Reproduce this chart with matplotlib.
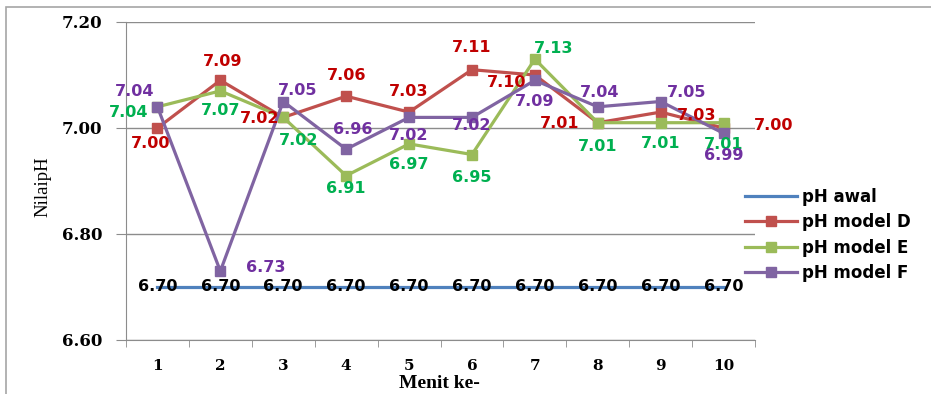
import matplotlib.pyplot as plt
from matplotlib.patches import Rectangle

# Data pH per menit
menit = ["1", "2", "3", "4", "5", "6", "7", "8", "9", "10"]
ph_awal = [6.70, 6.70, 6.70, 6.70, 6.70, 6.70, 6.70, 6.70, 6.70, 6.70]
ph_d = [7.00, 7.09, 7.02, 7.06, 7.03, 7.11, 7.10, 7.01, 7.03, 7.00]
ph_e = [7.04, 7.07, 7.02, 6.91, 6.97, 6.95, 7.13, 7.01, 7.01, 7.01]
ph_f = [7.04, 6.73, 7.05, 6.96, 7.02, 7.02, 7.09, 7.04, 7.05, 6.99]

# posisi label data (piksel, relatif ke titik)
off_awal = [(0, 0)] * 10
off_d = [(-7, -15), (2, 19), (-24, -1), (0, 21), (0, 21), (0, 22), (-28, -7), (-38, -1), (36, -3), (50, 2)]
off_e = [(-29, -6), (0, -20), (15, -23), (0, -13), (0, -21), (0, -23), (19, 11), (0, -24), (0, -21), (0, -22)]
off_f = [(-23, 15), (45, 4), (14, 11), (7, 20), (0, -18), (0, -8), (0, -21), (2, 14), (26, 9), (0, -22)]

fig = plt.figure(figsize=(9.31, 3.94), dpi=100)
fig.patches.append(Rectangle((6 / 931, -0.1), 1.1, 1 - 7 / 394 + 0.1, transform=fig.transFigure,
                             fill=False, edgecolor="#a6a6a6", linewidth=1.2))
ax = fig.add_axes([126 / 931, 1 - 340 / 394, (755 - 126) / 931, (340 - 22) / 394])

x = list(range(len(menit)))
series = [
    ("pH awal", ph_awal, "#4F81BD", None, "#000000", off_awal),
    ("pH model D", ph_d, "#C0504D", "s", "#C00000", off_d),
    ("pH model E", ph_e, "#9BBB59", "s", "#00B050", off_e),
    ("pH model F", ph_f, "#8064A2", "s", "#7030A0", off_f),
]

for nama, nilai, warna, mk, warna_lbl, off in series:
    ax.plot(x, nilai, color=warna, linewidth=2.3, marker=mk, markersize=7, label=nama, zorder=3)
    for xi, v, (dx, dy) in zip(x, nilai, off):
        ax.annotate(f"{v:.2f}", (xi, v), xytext=(dx * 0.72, dy * 0.72), textcoords="offset points",
                    ha="center", va="center", color=warna_lbl, fontsize=11.5,
                    fontweight="bold", family="DejaVu Sans", zorder=4)

ax.set_xlim(-0.5, 9.5)
ax.set_ylim(6.60, 7.20)
ax.set_yticks([6.60, 6.80, 7.00, 7.20])
ax.set_yticklabels(["6.60", "6.80", "7.00", "7.20"], fontsize=12, fontweight="bold", family="DejaVu Serif")
ax.set_xticks(x)
ax.set_xticklabels(menit, fontsize=11, fontweight="bold", family="DejaVu Serif")
ax.set_xticks([i - 0.5 for i in range(11)], minor=True)
ax.tick_params(axis="x", which="major", length=0, pad=14)
ax.tick_params(axis="x", which="minor", length=5, color="#8c8c8c", direction="out")
ax.tick_params(axis="y", length=7, color="#8c8c8c", direction="out", pad=10)
ax.grid(axis="y", color="#8c8c8c", linewidth=1)
ax.set_axisbelow(True)
for s in ["top", "right"]:
    ax.spines[s].set_visible(False)
for s in ["left", "bottom"]:
    ax.spines[s].set_color("#8c8c8c")

ax.set_ylabel("NilaipH", fontsize=13.5, family="Liberation Serif")
ax.yaxis.set_label_coords(-75 / 629, 1 - (187 - 22) / 318)
ax.set_xlabel("Menit ke-", fontsize=14, fontweight="bold", family="Liberation Serif")
ax.xaxis.set_label_coords((439 - 126) / 629, -(375 - 340) / 318)

fig.legend(loc="center left", bbox_to_anchor=(745 / 931, 1 - 235 / 394), frameon=False,
           prop={"weight": "bold", "size": 12}, handlelength=3.1, handletextpad=0.3,
           labelspacing=0.45, borderpad=0, borderaxespad=0)

plt.savefig("out.png", dpi=100)
